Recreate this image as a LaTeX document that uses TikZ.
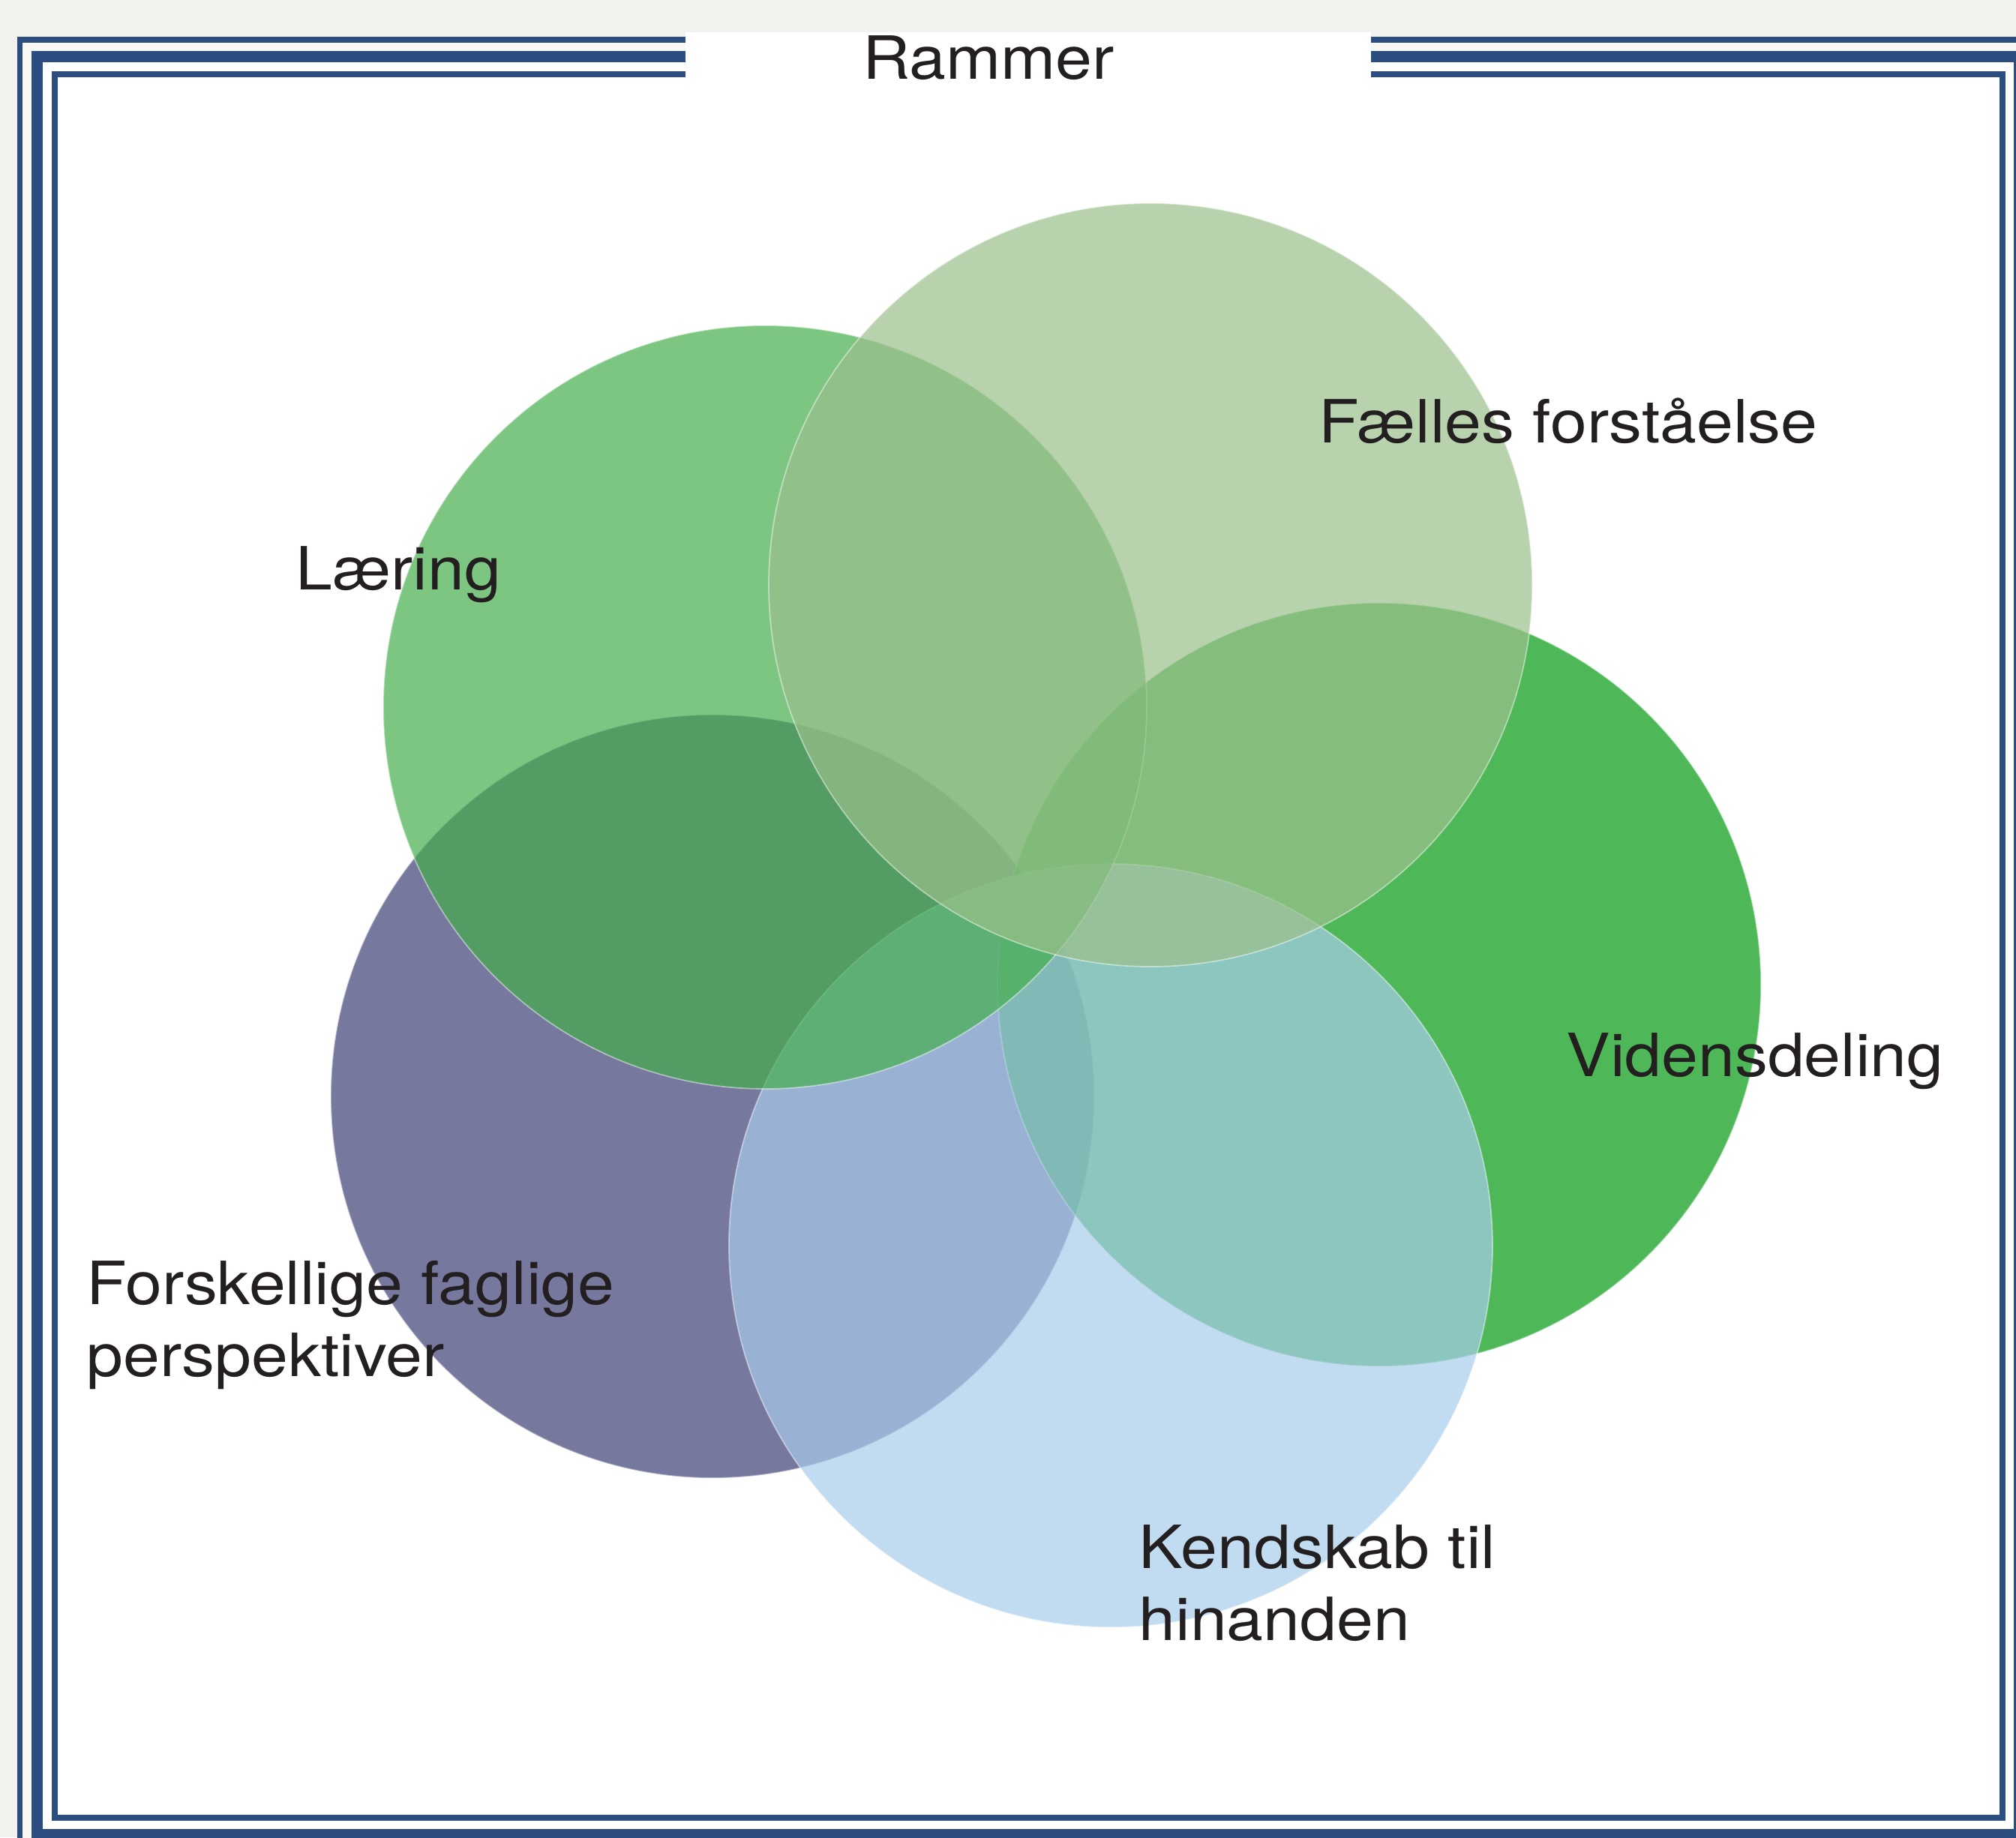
\documentclass[tikz,border=0pt]{standalone}
\usepackage{fontspec}
\setmainfont{TeX Gyre Heros}[FakeStretch=1.105]
\usepackage{tikz}
\definecolor{frame}{RGB}{44,77,128}
\definecolor{paper}{RGB}{241,241,237}
\definecolor{gap}{RGB}{247,247,244}
\definecolor{ink}{RGB}{35,31,32}
\definecolor{cL}{RGB}{69,174,78}
\definecolor{cS}{RGB}{155,192,139}
\definecolor{cV}{RGB}{4,154,19}
\definecolor{cK}{RGB}{168,204,235}
\definecolor{cF}{RGB}{61,64,118}
\tikzset{
  venn/.style={circle, minimum size=10.18cm, inner sep=0pt, fill opacity=0.7,
    draw=white, draw opacity=0.45, line width=0.5pt},
  lbl/.style={anchor=base west, inner sep=0pt, align=left, text=ink,
    font=\fontsize{22.6}{27.3}\selectfont}
}

\begin{document}
\begin{tikzpicture}
\useasboundingbox (0,0) rectangle (26.88,-24.5);
\clip (0,0) rectangle (26.88,-24.5);
\fill[paper] (0,0) rectangle (26.88,-24.5);
\fill[gap] (0.265,-0.53) rectangle (27.2,-24.8);
\fill[white] (0.49,-0.755) rectangle (26.92,-24.465);
\draw[frame, line width=0.075cm] (0.265,-0.53) rectangle (27.2,-24.8);
\draw[frame, line width=0.15cm] (0.49,-0.755) rectangle (26.92,-24.465);
\draw[frame, line width=0.08cm] (0.725,-0.99) rectangle (26.70,-24.24);
\fill[white] (9.14,-0.43) rectangle (18.28,-1.12);
\node[lbl] (t0) at (11.50,-1.05) {Rammer};
\node[venn, fill=cF] (v5) at (9.50,-14.62) {};
\node[venn, fill=cV] (v3) at (18.39,-13.13) {};
\node[venn, fill=cK] (v4) at (14.81,-16.61) {};
\node[venn, fill=cL] (v1) at (10.20,-9.43) {};
\node[venn, fill=cS] (v2) at (15.34,-7.80) {};
\node[lbl] (t1) at (3.94,-7.86) {Læring};
\node[lbl] (t2) at (17.58,-5.90) {Fælles forståelse};
\node[lbl] (t3) at (20.88,-14.35) {Vidensdeling};
\node[lbl] (t4) at (15.18,-21.87) {Kendskab til\\hinanden};
\node[lbl] (t5) at (1.15,-18.35) {Forskellige faglige\\perspektiver};
\end{tikzpicture}
\end{document}
